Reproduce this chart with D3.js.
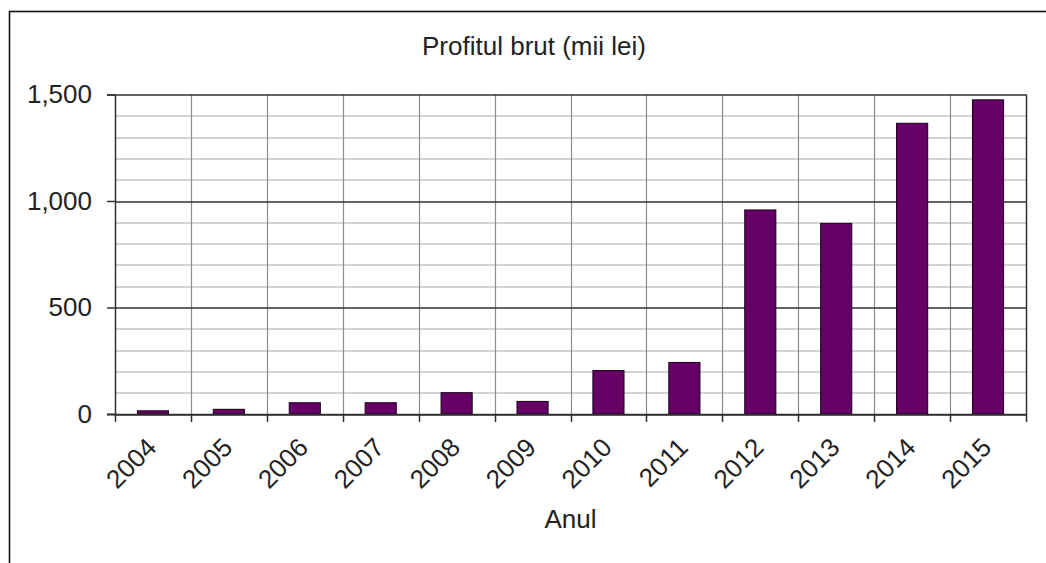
<!DOCTYPE html>
<html>
<head>
<meta charset="utf-8">
<script src="https://cdn.jsdelivr.net/npm/d3@7"></script>
<style>
  body { margin: 0; background: #fff; }
  svg { display: block; font-family: "Liberation Sans", Arial, sans-serif; }
</style>
</head>
<body>
<div id="viz"></div>
<script>
//Datos del gráfico
const years = ['2004','2005','2006','2007','2008','2009','2010','2011','2012','2013','2014','2015'];
const profit = [15, 22, 53, 53, 100, 59, 204, 242, 958, 895, 1365, 1475];
const yTicks = [0, 500, 1000, 1500];

const title = 'Profitul brut (mii lei)';
const xTitle = 'Anul';

//Colores
const COLOR_BAR = '#660066',
  COLOR_MAJOR = '#303030',
  COLOR_MINOR = '#a8a8a8',
  COLOR_VGRID = '#8c8c8c';

const FONT_SIZE = 26;

const W = 1046, H = 563;
let margin = {top: 94.5, right: 20, bottom: 149, left: 115},
  width = W - margin.left - margin.right,
  height = H - margin.top - margin.bottom;

let svg = d3.select('#viz').append('svg')
  .attr('width', W)
  .attr('height', H);

//Marco exterior
svg.append('rect')
  .attr('x', 9.5).attr('y', 11.5)
  .attr('width', 1100).attr('height', 700)
  .attr('fill', 'none')
  .attr('stroke', '#111')
  .attr('stroke-width', 1.6);

let g = svg.append('g')
  .attr('transform', 'translate(' + margin.left + ',' + margin.top + ')');

let x = d3.scaleBand().domain(years).range([0, width]).padding(0);
let y = d3.scaleLinear().domain([0, 1500]).range([height, 0]);

//Rejilla menor
g.append('g').selectAll('line')
  .data(y.ticks(15).filter(function(d) { return yTicks.indexOf(d) < 0; }))
  .enter().append('line')
  .attr('x1', 0).attr('x2', width)
  .attr('y1', function(d) { return Math.round(y(d)) + 0.5; })
  .attr('y2', function(d) { return Math.round(y(d)) + 0.5; })
  .attr('stroke', COLOR_MINOR).attr('stroke-width', 1.2);

//Rejilla vertical
g.append('g').selectAll('line')
  .data(years.slice(1))
  .enter().append('line')
  .attr('x1', function(d) { return Math.round(x(d)) + 0.5; })
  .attr('x2', function(d) { return Math.round(x(d)) + 0.5; })
  .attr('y1', 0).attr('y2', height)
  .attr('stroke', COLOR_VGRID).attr('stroke-width', 1.2);

//Rejilla mayor
g.append('g').selectAll('line')
  .data(yTicks)
  .enter().append('line')
  .attr('x1', 0).attr('x2', width)
  .attr('y1', function(d) { return Math.round(y(d)) + 0.5; })
  .attr('y2', function(d) { return Math.round(y(d)) + 0.5; })
  .attr('stroke', COLOR_MAJOR).attr('stroke-width', 1.5);

//Borde derecho
g.append('line')
  .attr('x1', width + 0.5).attr('x2', width + 0.5)
  .attr('y1', 0).attr('y2', height)
  .attr('stroke', COLOR_MAJOR).attr('stroke-width', 1.5);

//Barras
let barW = x.bandwidth() * 0.41;
g.selectAll('.bar')
  .data(years)
  .enter().append('rect')
  .attr('class', 'bar')
  .attr('x', function(d) { return x(d) + (x.bandwidth() - barW) / 2; })
  .attr('y', function(d, i) { return y(profit[i]); })
  .attr('width', barW)
  .attr('height', function(d, i) { return y(0) - y(profit[i]); })
  .attr('fill', COLOR_BAR)
  .attr('stroke', '#1a001a')
  .attr('stroke-width', 1);

//Eje Y
let yAxis = g.append('g')
  .call(d3.axisLeft(y).tickValues(yTicks).tickSize(8).tickPadding(15).tickFormat(d3.format(',')));
yAxis.select('.domain').attr('stroke', COLOR_MAJOR).attr('stroke-width', 1.5);
yAxis.selectAll('.tick line').attr('stroke', COLOR_MAJOR).attr('stroke-width', 1.5);
yAxis.selectAll('text')
  .attr('font-size', FONT_SIZE)
  .attr('fill', '#222')
  .attr('font-family', '"Liberation Sans", Arial, sans-serif');

//Eje X: marcas en los límites de las categorías
let xb = g.append('g').attr('transform', 'translate(0,' + height + ')');
xb.append('line')
  .attr('x1', -8).attr('x2', width + 0.5)
  .attr('y1', 0.5).attr('y2', 0.5)
  .attr('stroke', COLOR_MAJOR).attr('stroke-width', 1.5);
xb.selectAll('.xtick')
  .data(years.concat(['end']))
  .enter().append('line')
  .attr('class', 'xtick')
  .attr('x1', function(d) { return d == 'end' ? width + 0.5 : Math.round(x(d)) + 0.5; })
  .attr('x2', function(d) { return d == 'end' ? width + 0.5 : Math.round(x(d)) + 0.5; })
  .attr('y1', 0).attr('y2', 8)
  .attr('stroke', COLOR_MAJOR).attr('stroke-width', 1.5);

xb.selectAll('.xlabel')
  .data(years)
  .enter().append('text')
  .attr('class', 'xlabel')
  .attr('transform', function(d) {
    return 'translate(' + (x(d) + x.bandwidth() / 2 + 5) + ',35) rotate(-45)';
  })
  .attr('text-anchor', 'end')
  .attr('font-size', FONT_SIZE)
  .attr('fill', '#222')
  .text(function(d) { return d; });

//Títulos
svg.append('text')
  .attr('x', 534).attr('y', 55)
  .attr('text-anchor', 'middle')
  .attr('font-size', FONT_SIZE)
  .attr('fill', '#222')
  .text(title);

svg.append('text')
  .attr('x', margin.left + width / 2).attr('y', 528)
  .attr('text-anchor', 'middle')
  .attr('font-size', FONT_SIZE)
  .attr('fill', '#222')
  .text(xTitle);
</script>
</body>
</html>
